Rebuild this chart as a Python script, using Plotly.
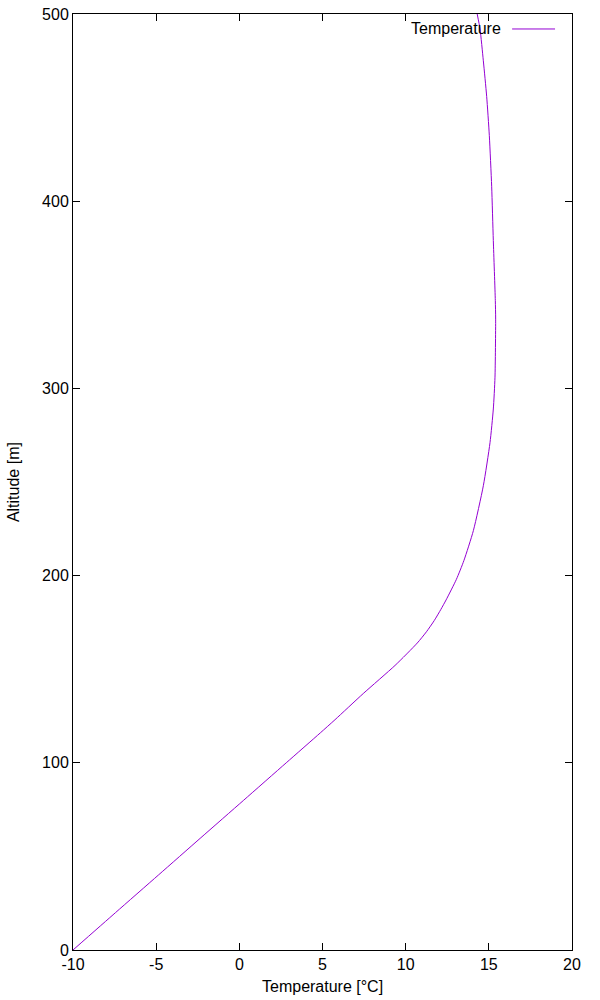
import plotly.graph_objects as go

altitude = [0, 20, 40, 60, 80, 100, 116, 123, 137, 152, 164, 170, 176, 182, 187, 198, 208,
            224, 248, 271, 289, 306, 337, 347, 379, 408, 435, 456, 475, 492, 500]
temperature = [-10, -7.44, -4.87, -2.31, 0.26, 2.82, 4.87, 5.75, 7.45, 9.36, 10.7, 11.25,
               11.72, 12.12, 12.43, 13.05, 13.5, 14.07, 14.67, 15.07, 15.27, 15.37, 15.41,
               15.39, 15.27, 15.17, 15.03, 14.87, 14.67, 14.47, 14.3]
x_ticks = [-10, -5, 0, 5, 10, 15, 20]
y_ticks = [0, 100, 200, 300, 400, 500]
series_name = "Temperature"
x_title = "Temperature [°C]"
y_title = "Altitude [m]"
line_color = "#9400D3"
font_family = "Liberation Sans, Arial, sans-serif"

fig = go.Figure()
fig.add_trace(go.Scatter(x=temperature, y=altitude, mode="lines", name=series_name,
                         line=dict(color=line_color, width=1, shape="spline", smoothing=0.6),
                         showlegend=False))

axis_common = dict(showline=True, linecolor="black", linewidth=1, mirror="ticks",
                   ticks="inside", ticklen=7, tickcolor="black", tickwidth=1,
                   showgrid=False, zeroline=False, automargin=False,
                   ticklabeloverflow="allow",
                   tickfont=dict(family=font_family, size=16, color="black"))
fig.update_xaxes(range=[-10, 20], tickvals=x_ticks, ticktext=[str(v) for v in x_ticks],
                 **axis_common)
fig.update_yaxes(range=[0, 500], tickvals=y_ticks, ticktext=[str(v) for v in y_ticks],
                 **axis_common)

# axis titles
fig.add_annotation(x=0.499, y=-0.0385, xref="paper", yref="paper", text=x_title,
                   showarrow=False, xanchor="center", yanchor="middle",
                   font=dict(family=font_family, size=16, color="black"))
fig.add_annotation(x=-0.120, y=0.5, xref="paper", yref="paper", text=y_title,
                   showarrow=False, xanchor="center", yanchor="middle", textangle=-90,
                   font=dict(family=font_family, size=16, color="black"))

# gnuplot-style key: text then line sample
fig.add_annotation(x=0.862, y=0.985, xref="paper", yref="paper", text=series_name,
                   showarrow=False, xanchor="right", yanchor="middle",
                   font=dict(family=font_family, size=16, color="black"))
fig.add_shape(type="line", xref="paper", yref="paper", x0=0.880, x1=0.966,
              y0=0.984, y1=0.984, line=dict(color=line_color, width=1))

fig.update_layout(width=600, height=1000, margin=dict(l=73, r=28, t=14, b=50),
                  plot_bgcolor="white", paper_bgcolor="white",
                  font=dict(family=font_family, size=16, color="black"))

# remove the default 8px page margin so the figure fills the 600x1000 window
fig.write_html("out.html", config={"displayModeBar": False},
               post_script="document.body.style.margin='0';document.body.style.overflow='hidden';")
